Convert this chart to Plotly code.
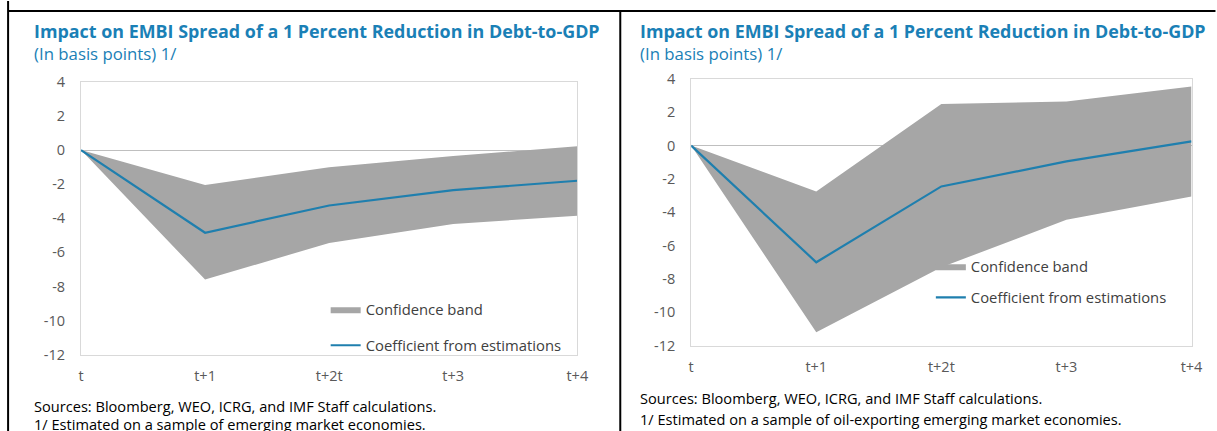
import plotly.graph_objects as go

W, H = 1217, 431

# data
periods = [0, 1, 2, 3, 4]
period_labels = ["t", "t+1", "t+2t", "t+3", "t+4"]
y_ticks = [4, 2, 0, -2, -4, -6, -8, -10, -12]
y_tick_labels = ["4", "2", "0", "-2", "-4", "-6", "-8", "-10", "-12"]

em_coef = [0, -4.85, -3.25, -2.35, -1.8]
em_upper = [0, -2.05, -1.0, -0.35, 0.22]
em_lower = [0, -7.6, -5.45, -4.33, -3.85]

oil_coef = [0, -7.0, -2.45, -0.95, 0.25]
oil_upper = [0, -2.75, 2.5, 2.65, 3.55]
oil_lower = [0, -11.2, -7.3, -4.45, -3.05]

TITLE = "Impact on EMBI Spread of a 1 Percent Reduction in Debt-to-GDP"
SUBTITLE = "(In basis points) 1/"
SOURCES = "Sources: Bloomberg, WEO, ICRG, and IMF Staff calculations."
NOTE_EM = "1/ Estimated on a sample of emerging market economies."
NOTE_OIL = "1/ Estimated on a sample of oil-exporting emerging market economies."

BLUE = "#1a80b6"
LINE_BLUE = "#1f7fae"
GREY_BAND = "#a6a6a6"
AXIS_GREY = "#d9d9d9"
TICK_GREY = "#595959"
FONT = "Open Sans"

# the snapshot comes out slightly shrunk and shifted, so map target pixels back
KX, AX = 0.989, 2.9
KY, AY = 0.957, 9.0


def px_x(p):
    return ((p - AX) / KX) / W


def px_y(p):
    return 1 - ((p - AY) / KY) / H


fig = go.Figure()

panels = [
    dict(coef=em_coef, upper=em_upper, lower=em_lower, x0=81, x1=578, top=81, bottom=354,
         leg_band=(326, 309), leg_line=(326, 345), xa="x", ya="y"),
    dict(coef=oil_coef, upper=oil_upper, lower=oil_lower, x0=692, x1=1193, top=78, bottom=345,
         leg_band=(932, 266), leg_line=(932, 297), xa="x2", ya="y2"),
]

leg_idx = 1
for i, p in enumerate(panels):
    lb = "legend" if leg_idx == 1 else f"legend{leg_idx}"
    ll = f"legend{leg_idx + 1}"
    fig.add_trace(go.Scatter(x=periods, y=p["upper"], mode="lines", line=dict(width=0),
                             showlegend=False, hoverinfo="skip", xaxis=p["xa"], yaxis=p["ya"]))
    fig.add_trace(go.Scatter(x=periods, y=p["lower"], mode="lines", line=dict(width=0),
                             fill="tonexty", fillcolor=GREY_BAND, name="Confidence band",
                             legend=lb, xaxis=p["xa"], yaxis=p["ya"]))
    fig.add_trace(go.Scatter(x=periods, y=p["coef"], mode="lines", line=dict(color=LINE_BLUE, width=2.2),
                             name="Coefficient from estimations", legend=ll,
                             xaxis=p["xa"], yaxis=p["ya"]))
    for key, pos in ((lb, p["leg_band"]), (ll, p["leg_line"])):
        fig.layout[key] = dict(x=px_x(pos[0]), y=px_y(pos[1]), xanchor="left", yanchor="middle",
                               bgcolor="rgba(0,0,0,0)", font=dict(size=14.8, color="#404040", family=FONT),
                               itemwidth=30, tracegroupgap=0)
    leg_idx += 2

    sfx = "" if i == 0 else "2"
    fig.layout["xaxis" + sfx] = dict(
        domain=[px_x(p["x0"]), px_x(p["x1"])], anchor="y" + sfx, range=[0, 4],
        tickvals=periods, ticktext=period_labels, showgrid=False, zeroline=False,
        showline=True, linecolor=AXIS_GREY, mirror=True, ticks="",
        tickfont=dict(size=14.5, color=TICK_GREY, family=FONT), ticklabelstandoff=8,
    )
    fig.layout["yaxis" + sfx] = dict(
        domain=[px_y(p["bottom"]), px_y(p["top"])], anchor="x" + sfx, range=[-12, 4],
        tickvals=y_ticks, ticktext=y_tick_labels, showgrid=False,
        zeroline=True, zerolinecolor="#bfbfbf", zerolinewidth=1,
        showline=True, linecolor=AXIS_GREY, mirror=True, ticks="",
        tickfont=dict(size=14.5, color=TICK_GREY, family=FONT), ticklabelstandoff=12,
    )
    # small tick marks on the zero line
    zero_y = p["top"] + (p["bottom"] - p["top"]) * 4 / 16
    ov = "3" if i == 0 else "4"
    fig.layout["xaxis" + ov] = dict(
        overlaying="x" + sfx, anchor="free", position=px_y(zero_y), side="top",
        domain=[px_x(p["x0"]), px_x(p["x1"])], range=[0, 4], tickvals=periods,
        showticklabels=False, ticks="outside", ticklen=4, tickcolor="#bfbfbf",
        showline=False, showgrid=False, zeroline=False,
    )

# titles and notes (y is the text centre in pixels)
texts = [
    (33, 30, TITLE, 17.9, BLUE, True),
    (33, 53, SUBTITLE, 16.8, BLUE, False),
    (33, 405, SOURCES, 14.6, "#000000", False),
    (33, 423, NOTE_EM, 14.6, "#000000", False),
    (640, 30, TITLE, 17.9, BLUE, True),
    (640, 53, SUBTITLE, 16.8, BLUE, False),
    (640, 397, SOURCES, 14.6, "#000000", False),
    (640, 418, NOTE_OIL, 14.6, "#000000", False),
]
for x, y, t, s, c, b in texts:
    fig.add_annotation(x=px_x(x), y=px_y(y), xref="paper", yref="paper", xanchor="left",
                       yanchor="middle", showarrow=False, text=f"<b>{t}</b>" if b else t,
                       font=dict(size=s, color=c, family=FONT), borderpad=0)

# frame lines
frame = [
    (8, 0, 8, 431),
    (8, 10, 1217, 10),
    (621, 10, 621, 431),
]
for x0, y0, x1, y1 in frame:
    fig.add_shape(type="line", xref="paper", yref="paper", x0=px_x(x0), y0=px_y(y0),
                  x1=px_x(x1), y1=px_y(y1), line=dict(color="black", width=2))

fig.update_layout(width=W, height=H, margin=dict(l=0, r=0, t=0, b=0),
                  paper_bgcolor="white", plot_bgcolor="white",
                  font=dict(family=FONT), hovermode=False)

fig.write_html("out.html", config={"displayModeBar": False, "staticPlot": True}, post_script=(
    "document.documentElement.style.margin='0';document.body.style.margin='0';"
    "document.body.style.padding='0';document.documentElement.style.overflow='hidden';"
    "document.body.style.overflow='hidden';"
))
